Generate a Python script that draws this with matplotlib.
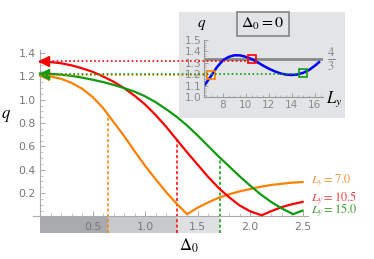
import numpy as np
import matplotlib
matplotlib.use("Agg")
import matplotlib.pyplot as plt
from matplotlib.patches import Rectangle
from matplotlib.lines import Line2D
from matplotlib.ticker import MultipleLocator, FixedLocator

plt.rcParams['mathtext.fontset'] = 'stix'
plt.rcParams['font.family'] = ['DejaVu Sans']

# main panel: q vs Delta_0 for three L_y
delta_7 = [0, 0.1, 0.2, 0.3, 0.4, 0.5, 0.6, 0.7, 0.8, 0.9, 1.0, 1.1, 1.2, 1.3, 1.4,
           1.5, 1.6, 1.7, 1.8, 1.9, 2.0, 2.1, 2.2, 2.3, 2.4, 2.5]
q_7 = [1.21, 1.20, 1.18, 1.145, 1.095, 1.025, 0.93, 0.81, 0.69, 0.56, 0.435, 0.32,
       0.21, 0.11, 0.02, 0.075, 0.12, 0.16, 0.19, 0.215, 0.235, 0.255, 0.27, 0.28, 0.29, 0.295]

delta_105 = [0, 0.1, 0.2, 0.3, 0.4, 0.5, 0.6, 0.7, 0.8, 0.9, 1.0, 1.1, 1.2, 1.3, 1.4,
             1.5, 1.6, 1.7, 1.8, 1.9, 2.0, 2.11, 2.2, 2.3, 2.4, 2.5]
q_105 = [1.327, 1.323, 1.313, 1.295, 1.27, 1.24, 1.20, 1.155, 1.10, 1.035, 0.96, 0.87,
         0.77, 0.66, 0.55, 0.445, 0.34, 0.245, 0.165, 0.095, 0.045, 0.01, 0.045, 0.08, 0.105, 0.125]

delta_15 = [0, 0.1, 0.2, 0.3, 0.4, 0.5, 0.6, 0.7, 0.8, 0.9, 1.0, 1.1, 1.2, 1.3, 1.4,
            1.5, 1.6, 1.7, 1.8, 1.9, 2.0, 2.1, 2.2, 2.3, 2.41, 2.5]
q_15 = [1.225, 1.222, 1.215, 1.205, 1.19, 1.172, 1.152, 1.128, 1.10, 1.07, 1.03, 0.98,
        0.92, 0.855, 0.78, 0.695, 0.605, 0.515, 0.43, 0.345, 0.265, 0.19, 0.125, 0.07, 0.02, 0.05]

delta_crit = [0.65, 1.30, 1.71]
q_zero = [1.21, 1.333, 1.225]
labels = [r'$L_y = 7.0$', r'$L_y = 10.5$', r'$L_y = 15.0$']
label_q = [0.298, 0.152, 0.044]

# inset: q vs L_y at Delta_0 = 0
ly = [6.45, 7, 7.5, 8, 8.5, 9, 9.5, 10, 10.5, 11, 11.5, 12, 12.5, 13, 13.5, 14,
      14.5, 15, 15.5, 16, 16.35]
q_ly = [1.11, 1.19, 1.265, 1.322, 1.352, 1.366, 1.365, 1.352, 1.333, 1.305, 1.275,
        1.248, 1.225, 1.207, 1.196, 1.193, 1.198, 1.213, 1.238, 1.275, 1.305]
ly_marks = [7.0, 10.5, 15.0]
q_marks = [1.19, 1.333, 1.213]

colors = ['#ff8000', '#ff0000', '#109a10']
label_colors = ['#f7903a', '#ff4040', '#3a9e2a']
tick_col = '#777777'
W, H = 374, 259

fig = plt.figure(figsize=(W / 100, H / 100), dpi=100)

# pixel -> figure fraction
def fx(px):
    return px / W

def fy(py):
    return 1 - py / H

ax = fig.add_axes([fx(33), fy(233.4), fx(307.8) - fx(33), fy(49.6) - fy(233.4)])
ax.set_xlim(-0.067, 2.55)
ax.set_ylim(-0.145, 1.43)
ax.patch.set_alpha(0)

band_bottom = -0.141
edges = [0] + delta_crit
band_cols = ['#a9abae', '#c8c9cb', '#dfe0e2']
for i in range(3):
    ax.add_patch(Rectangle((edges[i], band_bottom), edges[i + 1] - edges[i], -band_bottom,
                           facecolor=band_cols[i], edgecolor='none', zorder=0))

curves = [(delta_7, q_7), (delta_105, q_105), (delta_15, q_15)]
for (d, q), c in zip(curves, colors):
    ax.plot(d, q, color=c, lw=1.6, zorder=3, solid_joinstyle='round')

for (d, q), c, dc in zip(curves, colors, delta_crit):
    top = np.interp(dc, d, q)
    ax.plot([dc, dc], [band_bottom, top], color=c, lw=1.1, ls=(0, (2, 1.5)), zorder=2)

for lab, lq, c in zip(labels, label_q, label_colors):
    ax.text(2.58, lq, lab, color=c, fontsize=8.8, va='center', ha='left', clip_on=False)

for s in ['top', 'right']:
    ax.spines[s].set_visible(False)
ax.spines['left'].set_position(('data', 0))
ax.spines['bottom'].set_position(('data', 0))
ax.spines['left'].set_bounds(0, 1.43)
for s in ['left', 'bottom']:
    ax.spines[s].set_color('#aaaaaa')
    ax.spines[s].set_linewidth(0.8)

ax.xaxis.set_major_locator(FixedLocator([0.5, 1.0, 1.5, 2.0, 2.5]))
ax.xaxis.set_minor_locator(MultipleLocator(0.1))
ax.yaxis.set_major_locator(FixedLocator([0.2, 0.4, 0.6, 0.8, 1.0, 1.2, 1.4]))
ax.yaxis.set_minor_locator(MultipleLocator(0.05))
ax.xaxis.set_major_formatter(plt.FuncFormatter(lambda v, p: f'{v:.1f}'))
ax.yaxis.set_major_formatter(plt.FuncFormatter(lambda v, p: f'{v:.1f}'))
ax.tick_params(which='both', direction='in', color='#aaaaaa', labelcolor=tick_col,
               labelsize=7.8)
ax.tick_params(which='major', length=3.5, width=0.7)
ax.tick_params(which='minor', length=2, width=0.5)
ax.tick_params(axis='x', pad=4)
ax.tick_params(axis='y', pad=3)

fig.text(fx(6), fy(115), r'$q$', fontsize=12, ha='center', va='center')
fig.text(fx(189), fy(246), r'$\Delta_0$', fontsize=12, ha='center', va='center')

# inset background
fig.add_artist(Rectangle((fx(179), fy(118)), fx(345) - fx(179), fy(12) - fy(118),
                         transform=fig.transFigure, facecolor='#e3e4e6',
                         edgecolor='none', zorder=1))

ins = fig.add_axes([fx(204), fy(97), fx(323) - fx(204), fy(40) - fy(97)], zorder=2)
ins.patch.set_alpha(0)
ins.set_xlim(6.35, 16.7)
ins.set_ylim(1.0, 1.5)
ins.axhline(4 / 3, color='#888888', lw=2, zorder=1)
ins.plot(ly, q_ly, color='#0000ff', lw=1.8, zorder=2)
for l, qm, c in zip(ly_marks, q_marks, colors):
    ins.plot([l], [qm], marker='s', ms=6, mfc='none', mec=c, mew=1.2, zorder=4)
for s in ['top', 'right']:
    ins.spines[s].set_visible(False)
for s in ['left', 'bottom']:
    ins.spines[s].set_color('#999999')
    ins.spines[s].set_linewidth(0.8)
ins.xaxis.set_major_locator(FixedLocator([8, 10, 12, 14, 16]))
ins.xaxis.set_minor_locator(MultipleLocator(0.5))
ins.yaxis.set_major_locator(FixedLocator([1.0, 1.1, 1.2, 1.3, 1.4, 1.5]))
ins.yaxis.set_minor_locator(MultipleLocator(0.02))
ins.yaxis.set_major_formatter(plt.FuncFormatter(lambda v, p: f'{v:.1f}'))
ins.tick_params(which='both', direction='in', color='#999999', labelcolor='#8a8a8a',
                labelsize=7.6)
ins.tick_params(which='major', length=3, width=0.6)
ins.tick_params(which='minor', length=1.5, width=0.5)
ins.tick_params(axis='x', pad=2)
ins.tick_params(axis='y', pad=1.5)

fig.text(fx(202), fy(25), r'$q$', fontsize=11, ha='center', va='center', zorder=5)
fig.text(fx(334), fy(99), r'$L_y$', fontsize=12, ha='center', va='center', zorder=5)
fig.text(fx(331), fy(59), r'$\frac{4}{3}$', fontsize=13, color='#888888',
         ha='center', va='center', zorder=5)
fig.text(fx(263), fy(24), r'$\Delta_0 = 0$', fontsize=11.5, ha='center', va='center',
         zorder=5, bbox=dict(boxstyle='square,pad=0.25', fc='#e3e4e6', ec='#8c8c8c', lw=1.3))

# dotted guide lines from inset markers to the q axis, with arrowheads
fig.canvas.draw()
for qz, l, qm, c in [(q_zero[0], ly_marks[0], q_marks[0], colors[0]),
                     (q_zero[2], ly_marks[2], q_marks[2], colors[2]),
                     (q_zero[1], ly_marks[1], q_marks[1], colors[1])]:
    x0, y0 = ax.transData.transform((0.0, qz))
    x1, _ = ins.transData.transform((l, qm))
    inv = fig.transFigure.inverted()
    a = inv.transform((x0, y0))
    b = inv.transform((x1 - 4, y0))
    fig.add_artist(Line2D([a[0], b[0]], [a[1], b[1]], transform=fig.transFigure,
                          color=c, lw=1.2, ls=(0, (1, 1.5)), zorder=3))
    ax.plot([0.035], [qz], marker='<', ms=7, color=c, clip_on=False, zorder=6)

fig.savefig('out.png', dpi=100)
